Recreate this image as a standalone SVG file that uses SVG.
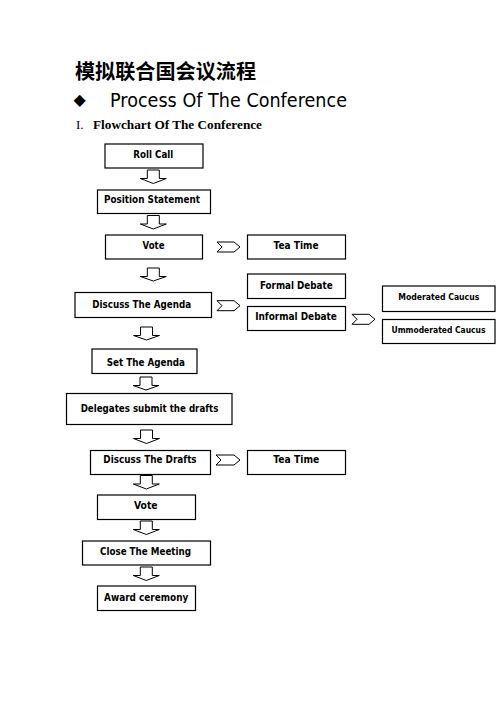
<svg xmlns="http://www.w3.org/2000/svg" width="496" height="702" viewBox="0 0 496 702">
<style>
.box{fill:#fff;stroke:#000;stroke-width:1.2}
.lbl{font-family:"DejaVu Sans","Liberation Sans",sans-serif;font-weight:bold;font-size:10.5px;text-anchor:middle;fill:#000}
.sm{font-size:9.4px}
.xs{font-size:8.4px}
.arr{fill:#fff;stroke:#000;stroke-width:1}
</style>
<rect width="496" height="702" fill="#fff"/>
<text x="75" y="79" font-family="'Noto Sans CJK SC',sans-serif" font-weight="bold" font-size="20" textLength="181" lengthAdjust="spacingAndGlyphs">模拟联合国会议流程</text>
<text x="73.5" y="105" font-family="'DejaVu Sans',sans-serif" font-size="16">◆</text>
<text x="110" y="106.5" font-family="'DejaVu Sans',sans-serif" font-size="19" textLength="237" lengthAdjust="spacingAndGlyphs">Process Of The Conference</text>
<text x="76" y="129" font-family="'Liberation Serif',serif" font-size="13">I.</text>
<text x="93" y="129" font-family="'Liberation Serif',serif" font-weight="bold" font-size="13" textLength="169" lengthAdjust="spacingAndGlyphs">Flowchart Of The Conference</text>

<g id="connectors">
<path class="arr" d="M147.3,170 H159.3 V178.5 H166.3 L153.3,183.5 L140.3,178.5 H147.3 Z"/>
<path class="arr" d="M147.3,215.5 H159.3 V224 H166.3 L153.3,229 L140.3,224 H147.3 Z"/>
<path class="arr" d="M147.3,268 H159.3 V276.5 H166.3 L153.3,281 L140.3,276.5 H147.3 Z"/>
<path class="arr" d="M140.5,327 H152.5 V335.5 H159.5 L146.5,340 L133.5,335.5 H140.5 Z"/>
<path class="arr" d="M140,377 H152 V385.5 H159 L146,390 L133,385.5 H140 Z"/>
<path class="arr" d="M140.5,430 H152.5 V438.5 H159.5 L146.5,443.5 L133.5,438.5 H140.5 Z"/>
<path class="arr" d="M140.3,475.5 H152.3 V484 H159.3 L146.3,489 L133.3,484 H140.3 Z"/>
<path class="arr" d="M140.3,521 H152.3 V529.5 H159.3 L146.3,534.5 L133.3,529.5 H140.3 Z"/>
<path class="arr" d="M140.3,567 H152.3 V575.5 H159.3 L146.3,580.5 L133.3,575.5 H140.3 Z"/>
<path class="arr" d="M217,242 H234 L240,247 L234,252 H217 L222,247 Z"/>
<path class="arr" d="M217,300.7 H234 L240,305.7 L234,310.7 H217 L222,305.7 Z"/>
<path class="arr" d="M352,314.3 H369 L375,319.3 L369,324.3 H352 L357,319.3 Z"/>
<path class="arr" d="M216,455 H234 L240,460 L234,465 H216 L221,460 Z"/>
</g>

<g id="roll-call"><rect class="box" x="105" y="144" width="98" height="24"/><text class="lbl" x="153.3" y="158.2" textLength="40" lengthAdjust="spacingAndGlyphs">Roll Call</text></g>
<g id="position-statement"><rect class="box" x="97.5" y="190" width="113" height="23.5"/><text class="lbl" x="152" y="203.4" textLength="96" lengthAdjust="spacingAndGlyphs">Position Statement</text></g>
<g id="vote-1"><rect class="box" x="105.5" y="235" width="97" height="24"/><text class="lbl" x="153.5" y="248.5" textLength="22" lengthAdjust="spacingAndGlyphs">Vote</text></g>
<g id="tea-time-1"><rect class="box" x="247.5" y="235" width="98" height="24"/><text class="lbl" x="296" y="248.5" textLength="45" lengthAdjust="spacingAndGlyphs">Tea Time</text></g>
<g id="formal-debate"><rect class="box" x="247.5" y="274" width="98" height="24.5"/><text class="lbl" x="296.3" y="288.5" textLength="72.7" lengthAdjust="spacingAndGlyphs">Formal Debate</text></g>
<g id="discuss-agenda"><rect class="box" x="75" y="292.5" width="136.5" height="25"/><text class="lbl" x="141.7" y="307.6" textLength="98.7" lengthAdjust="spacingAndGlyphs">Discuss The Agenda</text></g>
<g id="informal-debate"><rect class="box" x="247.5" y="306.5" width="98" height="24"/><text class="lbl" x="296" y="320" textLength="81.7" lengthAdjust="spacingAndGlyphs">Informal Debate</text></g>
<g id="moderated-caucus"><rect class="box" x="382.5" y="286" width="112.5" height="25.5"/><text class="lbl sm" x="438.8" y="300" textLength="81" lengthAdjust="spacingAndGlyphs">Moderated Caucus</text></g>
<g id="unmoderated-caucus"><rect class="box" x="382.5" y="319.5" width="112.5" height="24"/><text class="lbl xs" x="438.5" y="333" textLength="94" lengthAdjust="spacingAndGlyphs">Ummoderated Caucus</text></g>
<g id="set-agenda"><rect class="box" x="92" y="349" width="105" height="24.5"/><text class="lbl" x="145.8" y="366.4" textLength="78.3" lengthAdjust="spacingAndGlyphs">Set The Agenda</text></g>
<g id="delegates-submit"><rect class="box" x="66.5" y="393.5" width="165.5" height="31"/><text class="lbl" x="149.5" y="411.5" textLength="137.7" lengthAdjust="spacingAndGlyphs">Delegates submit the drafts</text></g>
<g id="discuss-drafts"><rect class="box" x="90.5" y="450.5" width="120" height="24"/><text class="lbl" x="150" y="463.3" textLength="93.3" lengthAdjust="spacingAndGlyphs">Discuss The Drafts</text></g>
<g id="tea-time-2"><rect class="box" x="247.5" y="450.5" width="98" height="24"/><text class="lbl" x="296.3" y="463.3" textLength="46" lengthAdjust="spacingAndGlyphs">Tea Time</text></g>
<g id="vote-2"><rect class="box" x="97.5" y="495" width="98" height="24.5"/><text class="lbl" x="145.8" y="509" textLength="23.7" lengthAdjust="spacingAndGlyphs">Vote</text></g>
<g id="close-meeting"><rect class="box" x="82.5" y="541" width="128" height="24"/><text class="lbl" x="145.5" y="555" textLength="91" lengthAdjust="spacingAndGlyphs">Close The Meeting</text></g>
<g id="award-ceremony"><rect class="box" x="97.5" y="586" width="98" height="24.5"/><text class="lbl" x="146.2" y="600.5" textLength="84.3" lengthAdjust="spacingAndGlyphs">Award ceremony</text></g>
</svg>
